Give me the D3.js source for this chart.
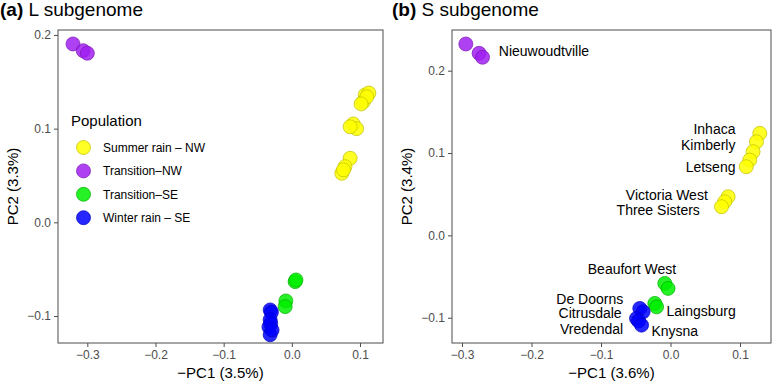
<!DOCTYPE html>
<html><head><meta charset="utf-8">
<script src="https://cdn.jsdelivr.net/npm/d3@7"></script>
<style>body{margin:0;background:#fff;font-family:"Liberation Sans",Arial,sans-serif}</style>
</head><body><svg id="c" width="778" height="381"></svg>
<script>
// ---- data ----
const groups = ["Summer rain – NW","Transition–NW","Transition–SE","Winter rain – SE"];
const colors = ["#FFFF00","#A020F0","#00EE00","#0000FF"];
const strokes = ["#BDBD00","#7A18B5","#00B000","#0000BE"];
// L subgenome: [-PC1, PC2]
const L_summer = [[0.1075,0.136],[0.113,0.138],[0.105,0.1288],[0.110,0.134],[0.1016,0.1264],[0.090,0.105],[0.095,0.100],[0.0855,0.102],[0.0855,0.0684],[0.078,0.0594],[0.0733,0.0524],[0.0757,0.056]];
const L_transNW = [[-0.321,0.1904],[-0.306,0.1832],[-0.300,0.1805]];
const L_transSE = [[0.0048,-0.0633],[0.006,-0.0615],[-0.0088,-0.0839],[-0.0098,-0.090]];
const L_winter = [[-0.0318,-0.0935],[-0.0300,-0.0960],[-0.0318,-0.104],[-0.0336,-0.1116],[-0.0310,-0.108],[-0.0318,-0.120],[-0.0290,-0.115]];
// S subgenome
const S_summer = [[0.1285,0.1239],[0.1237,0.1137],[0.1188,0.1016],[0.114,0.0915],[0.109,0.0834],[0.0829,0.0469],[0.078,0.0408],[0.0734,0.0348]];
const S_transNW = [[-0.2945,0.2324],[-0.2754,0.2211],[-0.2705,0.2163]];
const S_transSE = [[-0.0082,-0.0583],[-0.0035,-0.0644],[-0.0226,-0.0826],[-0.020,-0.0868]];
const S_winter = [[-0.0442,-0.0887],[-0.0394,-0.0928],[-0.0489,-0.1009],[-0.0460,-0.104],[-0.0417,-0.109]];
// S labels: text, x, y (data units), anchor
const S_labels = [
 ["Nieuwoudtville",-0.2470,0.2233,"start"],
 ["Inhaca",0.0935,0.1290,"end"],
 ["Kimberly",0.0935,0.1100,"end"],
 ["Letseng",0.0935,0.0835,"end"],
 ["Victoria West",0.0537,0.0492,"end"],
 ["Three Sisters",0.0422,0.0312,"end"],
 ["Beaufort West",-0.0554,-0.0410,"middle"],
 ["De Doorns",-0.0680,-0.0770,"end"],
 ["Citrusdale",-0.0703,-0.0945,"end"],
 ["Vredendal",-0.0680,-0.1135,"end"],
 ["Laingsburg",-0.0058,-0.0915,"start"],
 ["Knysna",-0.0274,-0.1163,"start"]
];
const xTicks = [-0.3,-0.2,-0.1,0.0,0.1];
const yTicks = [-0.1,0.0,0.1,0.2];

const svg = d3.select("#c");
const fmt = d => d3.format(".1f")(d).replace("-","\u2212");

function panel(o){
  const g = svg.append("g");
  const x = d3.scaleLinear().domain(o.xd).range([o.l,o.r]);
  const y = d3.scaleLinear().domain(o.yd).range([o.b,o.t]);
  g.append("rect").attr("x",o.l).attr("y",o.t).attr("width",o.r-o.l).attr("height",o.b-o.t)
   .attr("fill","#fff").attr("stroke","#4d4d4d").attr("stroke-width",1);
  const ax = g.append("g").attr("transform",`translate(0,${o.b})`)
   .call(d3.axisBottom(x).tickValues(xTicks).tickFormat(fmt).tickSize(4).tickPadding(3));
  const ay = g.append("g").attr("transform",`translate(${o.l},0)`)
   .call(d3.axisLeft(y).tickValues(yTicks).tickFormat(fmt).tickSize(4).tickPadding(3));
  [ax,ay].forEach(a=>{
    a.select(".domain").remove();
    a.selectAll("line").attr("stroke","#4d4d4d");
    a.selectAll("text").attr("fill","#4d4d4d").style("font-size","12px").style("font-family","Liberation Sans, Arial, sans-serif");
  });
  o.series.forEach((s,i)=>{
    g.selectAll(null).data(s).enter().append("circle")
     .attr("cx",d=>x(d[0])).attr("cy",d=>y(d[1])).attr("r",7)
     .attr("fill",colors[i]).attr("fill-opacity",0.85)
     .attr("stroke",strokes[i]).attr("stroke-opacity",0.7).attr("stroke-width",1);
  });
  g.append("text").attr("x",(o.l+o.r)/2).attr("y",378).attr("text-anchor","middle")
   .style("font-size","15px").text(o.xt);
  g.append("text").attr("transform",`translate(${o.l-45},${(o.t+o.b)/2}) rotate(-90)`)
   .attr("text-anchor","middle").attr("dy","0.35em").style("font-size","15px").text(o.yt);
  const tt = g.append("text").attr("x",o.tx).attr("y",16).style("font-size","19px");
  tt.append("tspan").attr("font-weight","bold").text(o.tag);
  tt.append("tspan").text(" "+o.title);
  return {g,x,y};
}

const A = panel({l:58,r:383,t:30,b:343,xd:[-0.343,0.1337],yd:[-0.1288,0.2053],
  series:[L_summer,L_transNW,L_transSE,L_winter],xt:"\u2212PC1 (3.5%)",yt:"PC2 (3.3%)",tx:0,tag:"(a)",title:"L subgenome"});
const B = panel({l:452,r:771,t:30,b:343,xd:[-0.3144,0.1446],yd:[-0.1307,0.2494],
  series:[S_summer,S_transNW,S_transSE,S_winter],xt:"\u2212PC1 (3.6%)",yt:"PC2 (3.4%)",tx:392,tag:"(b)",title:"S subgenome"});

B.g.selectAll(null).data(S_labels).enter().append("text")
 .attr("x",d=>B.x(d[1])).attr("y",d=>B.y(d[2])).attr("dy","0.35em")
 .attr("text-anchor",d=>d[3]).style("font-size","14px").text(d=>d[0]);

// legend
const lg = A.g.append("g");
lg.append("text").attr("x",71).attr("y",121).attr("dy","0.35em").style("font-size","15px").text("Population");
groups.forEach((gname,i)=>{
  const yy = 147.5 + i*23.4;
  lg.append("circle").attr("cx",83.5).attr("cy",yy).attr("r",7)
   .attr("fill",colors[i]).attr("fill-opacity",0.85).attr("stroke",strokes[i]).attr("stroke-opacity",0.7);
  lg.append("text").attr("x",103).attr("y",yy).attr("dy","0.35em").style("font-size","12px").text(gname);
});
</script></body></html>
